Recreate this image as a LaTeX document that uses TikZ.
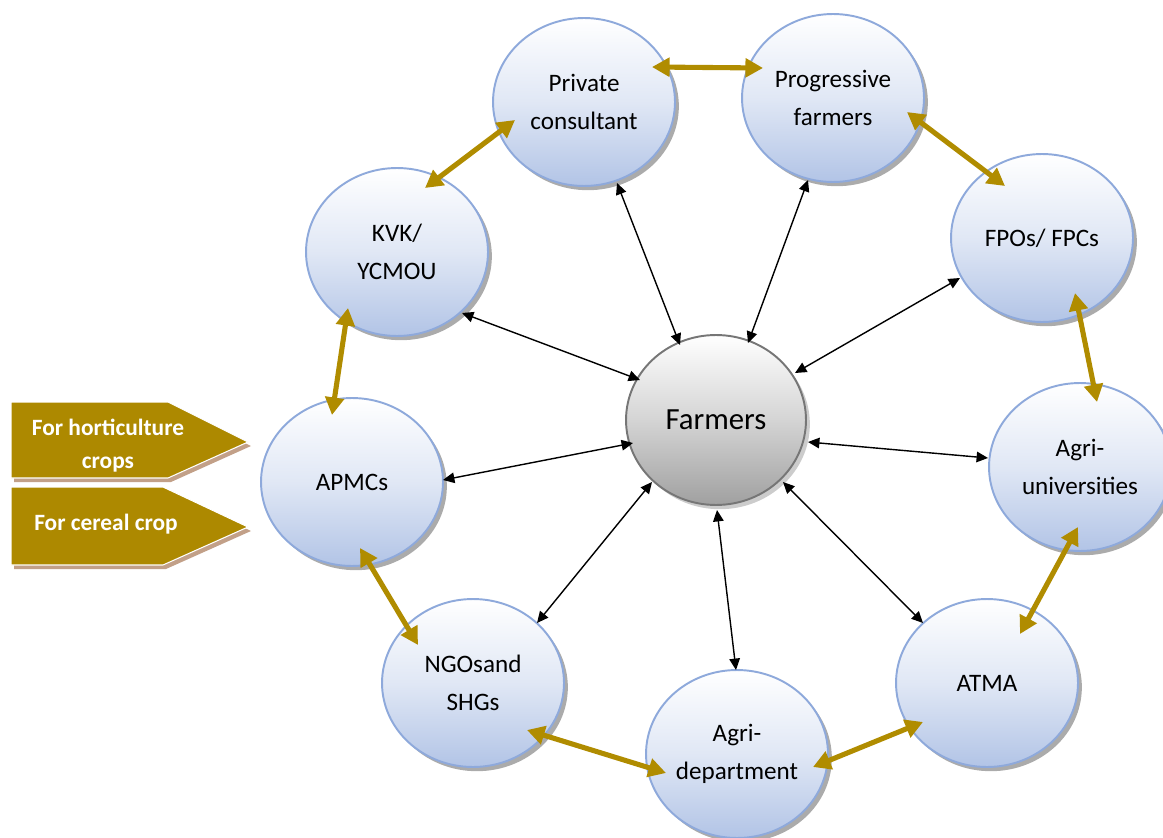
\documentclass[tikz,border=0pt]{standalone}
\usepackage{fontspec}
\setmainfont{Carlito}
\usetikzlibrary{arrows.meta,shapes.geometric,shadows,calc}

\definecolor{ringblue}{RGB}{142,169,219}
\definecolor{fillblue}{RGB}{178,196,230}
\definecolor{ringgray}{RGB}{118,118,118}
\definecolor{fillgray}{RGB}{160,160,160}
\definecolor{linkgold}{RGB}{176,140,0}
\definecolor{taggold}{RGB}{173,137,0}
\definecolor{tagshade}{RGB}{194,160,136}

\tikzset{
  actor/.style={ellipse, minimum width=3.64cm, minimum height=3.36cm, inner sep=0pt,
    draw=ringblue, line width=1.1pt,
    top color=white, bottom color=fillblue, middle color=fillblue!40,
    align=center, font=\fontsize{14.3}{21.5}\selectfont,
    drop shadow={shadow xshift=2.2pt, shadow yshift=-2.4pt, fill=black!55, opacity=0.6}},
  hub/.style={ellipse, minimum width=3.6cm, minimum height=3.4cm, inner sep=0pt,
    draw=ringgray, line width=1.1pt,
    top color=white, bottom color=fillgray, middle color=fillgray!45,
    font=\fontsize{17.5}{21}\selectfont,
    drop shadow={shadow xshift=2.2pt, shadow yshift=-2.4pt, fill=black!40, opacity=0.5}},
  mutual/.style={draw=linkgold, line width=2.9pt,
    {Triangle[length=10pt,width=10.5pt,fill=linkgold]}-{Triangle[length=10pt,width=10.5pt,fill=linkgold]}},
  spoke/.style={draw=black, line width=0.8pt,
    {Triangle[length=6.5pt,width=6pt]}-{Triangle[length=6.5pt,width=6pt]}},
  tagtext/.style={anchor=base, text=white, inner sep=0pt,
    font=\fontsize{13.3}{16}\selectfont\bfseries},
}

\begin{document}
\begin{tikzpicture}[x=0.02cm, y=-0.02cm]
  \useasboundingbox (0,0) rectangle (1163,838);

  % outer ring of actors
  \node[actor] (pc)   at (584,102)  {Private\\consultant};
  \node[actor] (pf)   at (833,98)   {Progressive\\farmers};
  \node[actor] (fpo)  at (1042,238) {FPOs/ FPCs};
  \node[actor] (au)   at (1080,467) {Agri-\\universities};
  \node[actor] (atma) at (987,683)  {ATMA};
  \node[actor] (ad)   at (737,754)  {Agri-\\department};
  \node[actor] (ngo)  at (473,683)  {NGOsand\\SHGs};
  \node[actor] (apmc) at (352,482)  {APMCs};
  \node[actor] (kvk)  at (397,252)  {KVK/\\YCMOU};

  % central hub
  \node[hub] (farm) at (716,420) {Farmers};

  % links between neighbouring actors
  \draw[mutual] ($(pc)+(68,-35)$)   -- ($(pf)+(-70,-30)$);
  \draw[mutual] ($(pf)+(74,14)$)    -- ($(fpo)+(-37,-52)$);
  \draw[mutual] ($(fpo)+(33,55)$)   -- ($(au)+(17,-65)$);
  \draw[mutual] ($(au)+(-2,60)$)    -- ($(atma)+(33,-49)$);
  \draw[mutual] ($(atma)+(-64,39)$) -- ($(ad)+(76,13)$);
  \draw[mutual] ($(ad)+(-71,19)$)   -- ($(ngo)+(54,47)$);
  \draw[mutual] ($(ngo)+(-55,-38)$) -- ($(apmc)+(8,66)$);
  \draw[mutual] ($(apmc)+(-20,-67)$) -- ($(kvk)+(-49,56)$);
  \draw[mutual] ($(kvk)+(28,-64)$)  -- ($(pc)+(-69,18)$);

  % spokes from the farmers
  \draw[spoke] ($(farm)+(-36,-75)$) -- ($(pc)+(33,81)$);
  \draw[spoke] ($(farm)+(32,-77)$)  -- ($(pf)+(-25,82)$);
  \draw[spoke] ($(farm)+(79,-47)$)  -- ($(fpo)+(-82,40)$);
  \draw[spoke] ($(farm)+(92,22)$)   -- ($(au)+(-92,-9)$);
  \draw[spoke] ($(farm)+(67,62)$)   -- ($(atma)+(-64,-60)$);
  \draw[spoke] ($(farm)+(1,90)$)    -- ($(ad)+(-1,-84)$);
  \draw[spoke] ($(farm)+(-64,62)$)  -- ($(ngo)+(64,-60)$);
  \draw[spoke] ($(farm)+(-83,23)$)  -- ($(apmc)+(91,-2)$);
  \draw[spoke] ($(farm)+(-76,-40)$) -- ($(kvk)+(65,61)$);

  % crop tags beside the APMCs
  \fill[tagshade] (14,406) -- (171,406) -- (251,446) -- (171,482) -- (14,482) -- cycle;
  \filldraw[fill=taggold, draw=white, line width=0.6pt]
    (11,402) -- (168,402) -- (248,442) -- (168,478) -- (11,478) -- cycle;
  \fill[tagshade] (14,491) -- (166,491) -- (251,531) -- (166,569) -- (14,569) -- cycle;
  \filldraw[fill=taggold, draw=white, line width=0.6pt]
    (11,487) -- (163,487) -- (248,527) -- (163,565) -- (11,565) -- cycle;

  \begin{scope}
    \clip (0,395) rectangle (260,471);
    \node[tagtext] (hort) at (108,435) {For horticulture};
    \node[tagtext] (hortb) at (108,468) {crops};
  \end{scope}
  \node[tagtext] (cereal) at (106,530) {For cereal crop};
\end{tikzpicture}
\end{document}
